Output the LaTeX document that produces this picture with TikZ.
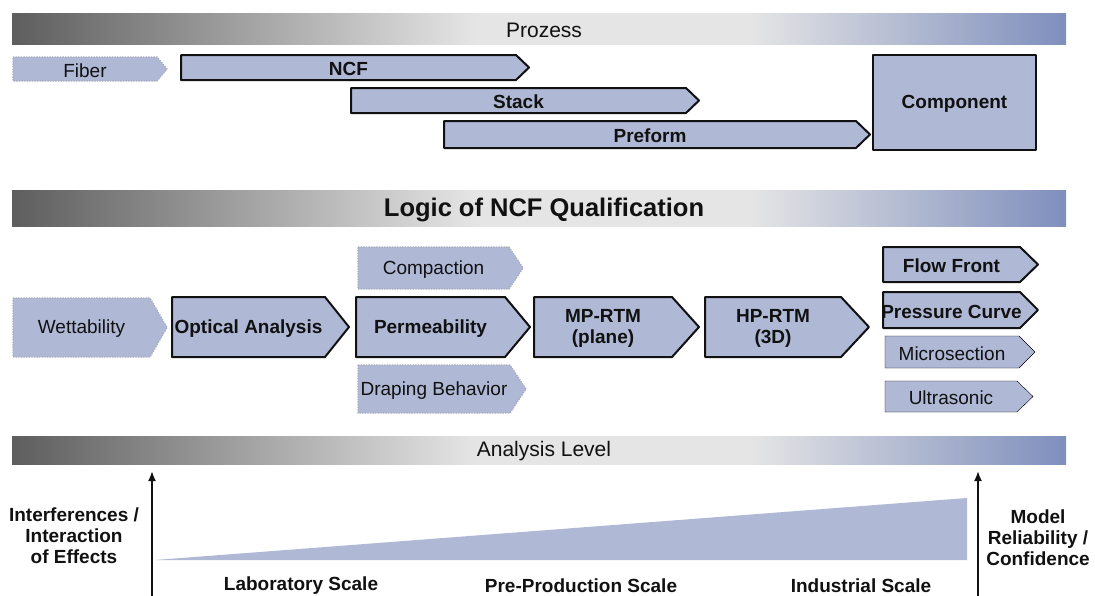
\documentclass[tikz,border=0pt]{standalone}
\usepackage{fontspec}
\setmainfont{Liberation Sans}
\usepackage{tikz}
\usetikzlibrary{positioning,arrows.meta}
\definecolor{steel}{HTML}{AFB9D6}
\definecolor{ink}{HTML}{111111}
\definecolor{seam}{HTML}{A9ADBD}
\definecolor{barleft}{HTML}{5E5E5E}
\definecolor{barmid}{HTML}{E5E5E5}
\definecolor{barright}{HTML}{7F8FBD}
\pgfdeclarehorizontalshading{levelbar}{100bp}{color(0bp)=(barleft); color(25bp)=(barleft); color(47bp)=(barmid); color(60bp)=(barmid); color(75bp)=(barright); color(100bp)=(barright)}
\newcommand{\lbl}{\fontsize{19}{21}\selectfont}
\newcommand{\barlbl}{\fontsize{21}{24}\selectfont}

\begin{document}
\begin{tikzpicture}[x=1pt,y=-1pt,
  solidchev/.style={fill=steel,draw=ink,line width=2pt,line join=round},
  dotchev/.style={fill=steel,draw=seam,line width=1.3pt,dash pattern=on 1.4pt off 1.2pt},
  plainchev/.style={fill=steel},
  boldlbl/.style={font=\lbl\bfseries,text=ink,align=center,inner sep=0pt,yshift=-1.5pt},
  thinlbl/.style={font=\lbl,text=ink,align=center,inner sep=0pt,yshift=-1.5pt},
  axisarrow/.style={draw=ink,line width=1.8pt,-{Latex[length=10pt,width=8pt]}}]
  \useasboundingbox (0,0) rectangle (1095,595);

  % gradient bars
  \foreach \nm/\ya/\yb/\txt/\fnt in {
    prozess/13/44/Prozess/\barlbl,
    logic/190/226/Logic of NCF Qualification/\fontsize{25.5}{28}\selectfont\bfseries,
    level/436/464/Analysis Level/\barlbl}
  {
    \shade[shading=levelbar] (12,\ya) rectangle (1066,\yb);
    \node[font=\fnt,text=ink,inner sep=0pt,yshift=-1.5pt] (\nm) at (544,{(\ya+\yb)/2}) {\txt};
  }

  % process and qualification steps
  \foreach \nm/\xa/\xb/\ya/\yb/\tp/\kind/\fnt/\txt in {
    fiber/13/167/57/81/10/dotchev/thinlbl/Fiber,
    ncf/181/529/55/80/13/solidchev/boldlbl/NCF,
    stack/351/699/88/113/13/solidchev/boldlbl/Stack,
    preform/444/870/121/148/14/solidchev/boldlbl/Preform,
    wett/13/167/298/357/17/dotchev/thinlbl/Wettability,
    optical/172/349/297/357/24/solidchev/boldlbl/Optical Analysis,
    perm/356/530/297/357/25/solidchev/boldlbl/Permeability,
    compact/358/523/247/289/14/dotchev/thinlbl/Compaction,
    draping/358/526/365/413/16/dotchev/thinlbl/Draping Behavior,
    mprtm/534/699/297/357/27/solidchev/boldlbl/{MP-RTM\\(plane)},
    hprtm/705/869/297/357/28/solidchev/boldlbl/{HP-RTM\\(3D)},
    flow/883/1038/247/282/18/solidchev/boldlbl/Flow Front,
    pressure/883/1038/292/328/18/solidchev/boldlbl/Pressure Curve,
    micro/885/1035/336/368/16/plainchev/thinlbl/Microsection,
    ultra/885/1033/381/412/16/plainchev/thinlbl/Ultrasonic}
  {
    \pgfmathsetmacro{\ym}{(\ya+\yb)/2}
    \draw[\kind] (\xa,\ya) -- (\xb-\tp,\ya) -- (\xb,\ym) -- (\xb-\tp,\yb) -- (\xa,\yb) -- cycle;
    \node[\fnt] (\nm) at ({(\xa+\xb-\tp)/2},\ym) {\txt};
  }
  \draw[solidchev] (873,55) rectangle (1036,150);
  \node[boldlbl] (comp) at (954.5,102.5) {Component};

  % analysis level
  \fill[steel] (155,560) -- (967,498) -- (967,560) -- cycle;
  \coordinate (lbase) at (152,600);
  \coordinate (ltop) at (152,471);
  \coordinate (rbase) at (978,600);
  \coordinate (rtop) at (978,471);
  \draw[axisarrow] (lbase) -- (ltop);
  \draw[axisarrow] (rbase) -- (rtop);
  \node[boldlbl] (interf) at (74,534) {Interferences /\\Interaction\\of Effects};
  \node[boldlbl] (model) at (1038,536) {Model\\Reliability /\\Confidence};
  \node[boldlbl] (lab) at (301,584) {Laboratory Scale};
  \node[boldlbl] (preprod) at (581,584) {Pre-Production Scale};
  \node[boldlbl] (indus) at (861,584) {Industrial Scale};
\end{tikzpicture}
\end{document}
